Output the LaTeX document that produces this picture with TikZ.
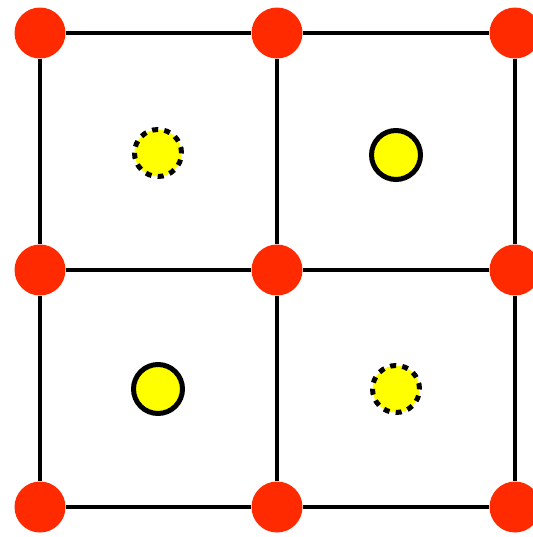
\documentclass[tikz,border=0pt]{standalone}
\usetikzlibrary{positioning}
\definecolor{sitered}{RGB}{255,42,0}
\definecolor{spinyellow}{RGB}{255,255,0}

\tikzset{
  site/.style={circle, fill=sitered, inner sep=0pt, minimum size=1.02cm},
  bond/.style={black, line width=0.08cm},
  spin/.style={circle, fill=spinyellow, draw=black, line width=0.1cm, inner sep=0pt, minimum size=0.98cm},
  spindots/.style={spin, minimum size=0.94cm, dash pattern=on 0.12cm off 0.125cm}
}

\begin{document}
\begin{tikzpicture}[x=0.02cm, y=-0.02cm]
  \useasboundingbox (0,0) rectangle (533,537);

  % Lattice sites
  \foreach \i/\x in {0/40, 1/277, 2/515}
    \foreach \j/\y in {0/33, 1/270, 2/507}
      \node[site] (s\i\j) at (\x,\y) {};

  % Bonds between neighbouring sites
  \foreach \i in {0,1,2}
    \foreach \j/\k in {0/1, 1/2} {
      \draw[bond] (s\i\j) -- (s\i\k);
      \draw[bond] (s\j\i) -- (s\k\i);
    }

  % Plaquette spins
  \node[spindots] (p00) at (158,153) {};
  \node[spin]     (p10) at (396,155) {};
  \node[spin]     (p01) at (158,389) {};
  \node[spindots] (p11) at (396,389) {};
\end{tikzpicture}
\end{document}
